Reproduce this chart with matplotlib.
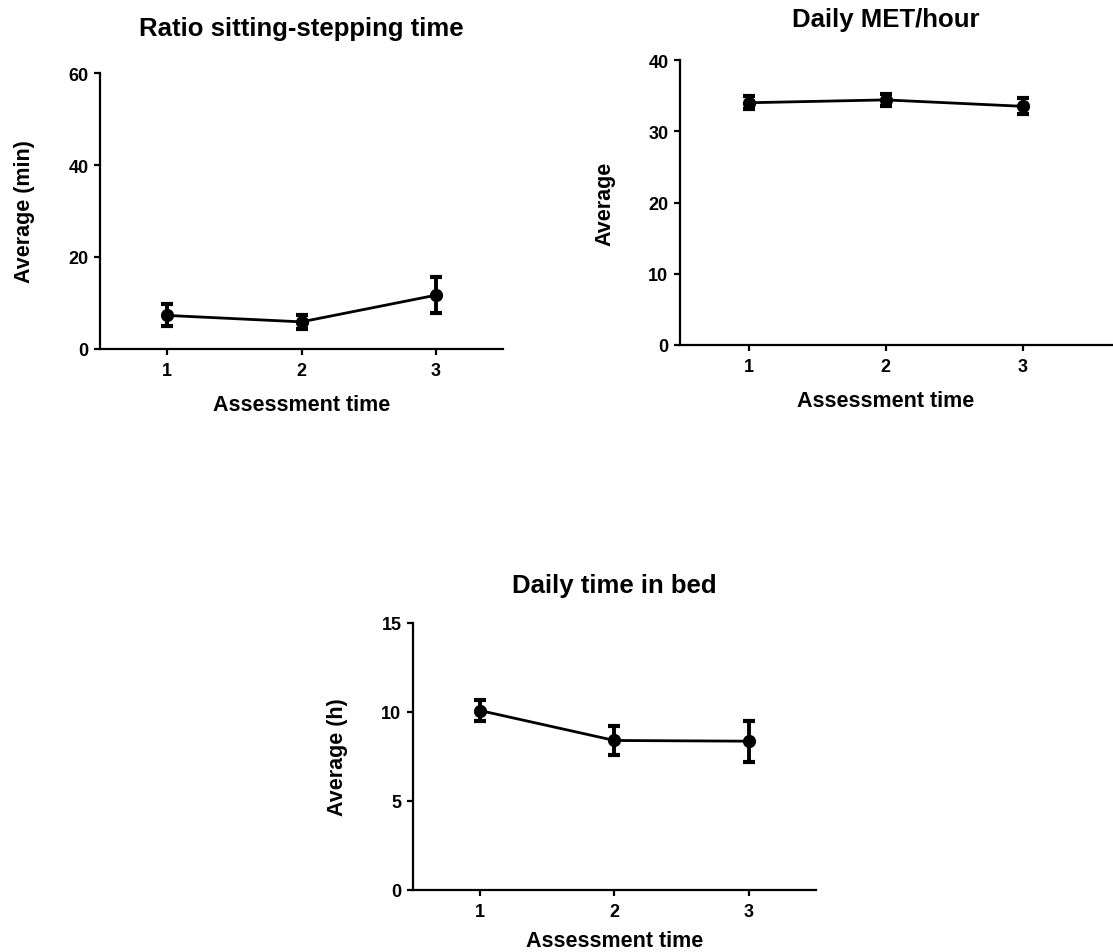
import matplotlib
matplotlib.use("Agg")
import matplotlib.pyplot as plt

plt.rcParams['font.family'] = ['Liberation Sans', 'DejaVu Sans']
plt.rcParams['font.weight'] = 'bold'

# Assessment points
assessments = [1, 2, 3]
tick_labels = ["1", "2", "3"]

# Ratio sitting-stepping time (min): mean and error
ratio_mean = [7.3, 5.9, 11.7]
ratio_err = [2.4, 1.6, 3.9]

# Daily MET/hour: mean and error
met_mean = [34.0, 34.4, 33.5]
met_err = [0.9, 0.85, 1.1]

# Daily time in bed (h): mean and error
bed_mean = [10.08, 8.40, 8.36]
bed_err = [0.6, 0.8, 1.15]

W, H = 1113, 953
fig = plt.figure(figsize=(W / 100, H / 100), dpi=100)


def px_axes(left, top, right, bottom):
    return fig.add_axes([left / W, 1 - bottom / H, (right - left) / W, (bottom - top) / H])


def draw_panel(ax, means, errs, title, ylabel, ymax, yticks, xmax, title_y,
               center_x=0.5, xlabelpad=11):
    ax.errorbar(assessments, means, yerr=errs, color='black', lw=2.0,
                marker='o', ms=8.5, elinewidth=2.8, capsize=4.5, capthick=3.0,
                clip_on=False, zorder=3)
    ax.set_xlim(0.5, xmax)
    ax.set_ylim(0, ymax)
    ax.set_xticks(assessments)
    ax.set_xticklabels(tick_labels)
    ax.set_yticks(yticks)
    for s in ('top', 'right'):
        ax.spines[s].set_visible(False)
    for s in ('left', 'bottom'):
        ax.spines[s].set_linewidth(1.6)
    ax.tick_params(axis='y', direction='out', length=4.3, width=1.6,
                   labelsize=13, pad=4)
    ax.tick_params(axis='x', direction='out', length=4.3, width=1.6,
                   labelsize=13, pad=5)
    for lbl in ax.get_xticklabels() + ax.get_yticklabels():
        lbl.set_fontweight('bold')
    ax.set_xlabel("Assessment time", fontsize=15.5, fontweight='bold',
                  labelpad=xlabelpad)
    ax.xaxis.label.set_x(center_x)
    ax.set_ylabel(ylabel, fontsize=15.5, fontweight='bold', labelpad=24)
    ax.text(center_x, title_y, title, transform=ax.transAxes, ha='center',
            va='baseline', fontsize=18.5, fontweight='bold')


ax1 = px_axes(100, 74, 503, 350)
draw_panel(ax1, ratio_mean, ratio_err, "Ratio sitting-stepping time",
           "Average (min)", 60, [0, 20, 40, 60], 3.5, 1.138)

ax2 = px_axes(680, 61, 1113, 346)
draw_panel(ax2, met_mean, met_err, "Daily MET/hour", "Average", 40,
           [0, 10, 20, 30, 40], 3.66, 1.119, center_x=0.4746)

ax3 = px_axes(413, 624, 816, 891)
draw_panel(ax3, bed_mean, bed_err, "Daily time in bed", "Average (h)", 15,
           [0, 5, 10, 15], 3.5, 1.116, xlabelpad=7)

fig.savefig("out.png", dpi=100, facecolor='white')
